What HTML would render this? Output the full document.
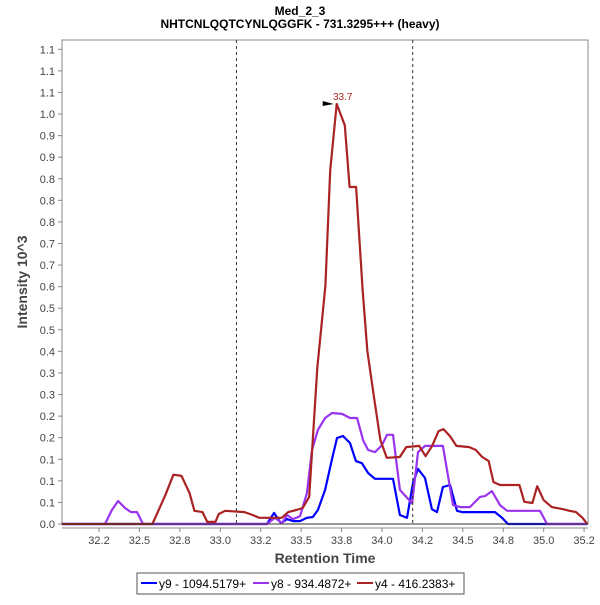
<!DOCTYPE html>
<html><head><meta charset="utf-8"><style>
body{margin:0;background:#fff;}
svg text{font-family:"Liberation Sans",sans-serif;}
</style></head><body>
<svg width="600" height="600" viewBox="0 0 600 600">
<rect x="0" y="0" width="600" height="600" fill="#fff"/>
<text x="300" y="15" text-anchor="middle" font-size="12" font-weight="bold">Med_2_3</text>
<text x="300" y="28" text-anchor="middle" font-size="12" font-weight="bold">NHTCNLQQTCYNLQGGFK - 731.3295+++ (heavy)</text>
<rect x="62" y="40" width="526" height="484" fill="#fff" stroke="#888"/>
<g id="yaxis"></g>
<g id="xaxis"></g>
<text transform="translate(27,282) rotate(-90)" text-anchor="middle" font-size="14" font-weight="bold" fill="#444">Intensity 10^3</text>
<text x="325" y="563" text-anchor="middle" font-size="14" font-weight="bold" fill="#444">Retention Time</text>
<g id="series"></g>
<g id="annot"></g>
<g>
<rect x="137" y="573" width="327" height="21" fill="#fff" stroke="#555"/>
<line x1="141" y1="583" x2="157" y2="583" stroke="#0000ff" stroke-width="2"/>
<text x="159" y="588" font-size="12">y9 - 1094.5179+</text>
<line x1="253" y1="583" x2="269" y2="583" stroke="#9933ee" stroke-width="2"/>
<text x="271" y="588" font-size="12">y8 - 934.4872+</text>
<line x1="357" y1="583" x2="373" y2="583" stroke="#aa2222" stroke-width="2"/>
<text x="375" y="588" font-size="12">y4 - 416.2383+</text>
</g>
</svg>
<script>
const xTickValues=[32.25,32.5,32.75,33.0,33.25,33.5,33.75,34.0,34.25,34.5,34.75,35.0,35.25];
const xTickLabels=["32.2","32.5","32.8","33.0","33.2","33.5","33.8","34.0","34.2","34.5","34.8","35.0","35.2"];
const yTickLabels=["0.0","0.1","0.1","0.1","0.2","0.2","0.3","0.3","0.4","0.5","0.5","0.6","0.7","0.7","0.8","0.8","0.8","0.9","0.9","1.0","1.1","1.1","1.1"];
const yTickStep=0.0525;
const dashedTimes=[33.1,34.19];
const peakTime=33.72, peakValue=1.022, peakLabel="33.7";
const y9T=[32.02,33.289,33.332,33.375,33.413,33.45,33.493,33.536,33.573,33.604,33.648,33.691,33.722,33.759,33.802,33.839,33.876,33.914,33.957,34.068,34.111,34.155,34.192,34.223,34.266,34.309,34.34,34.377,34.421,34.464,34.495,34.606,34.699,34.742,34.779,35.27];
const y9V=[0,0,0.027,0.002,0.012,0.007,0.007,0.015,0.017,0.034,0.083,0.158,0.209,0.214,0.197,0.153,0.148,0.124,0.11,0.11,0.022,0.015,0.1,0.134,0.112,0.036,0.029,0.09,0.095,0.032,0.029,0.029,0.029,0.015,0,0];
const y8T=[32.02,32.287,32.33,32.368,32.411,32.448,32.485,32.522,33.289,33.338,33.382,33.413,33.45,33.493,33.536,33.567,33.604,33.648,33.691,33.753,33.802,33.846,33.883,33.914,33.957,34.0,34.031,34.068,34.111,34.186,34.223,34.266,34.377,34.439,34.483,34.544,34.606,34.637,34.68,34.73,34.773,34.977,35.021,35.27];
const y8V=[0,0,0.034,0.056,0.039,0.029,0.029,0,0,0.015,0.002,0.022,0.012,0.019,0.075,0.18,0.229,0.258,0.27,0.268,0.258,0.258,0.204,0.18,0.175,0.192,0.217,0.217,0.083,0.05,0.175,0.19,0.19,0.046,0.041,0.041,0.066,0.068,0.08,0.046,0.032,0.032,0,0];
const y4T=[32.02,32.58,32.66,32.71,32.76,32.81,32.84,32.89,32.92,32.97,32.99,33.03,33.15,33.2,33.24,33.38,33.42,33.47,33.51,33.55,33.6,33.65,33.68,33.72,33.77,33.8,33.84,33.88,33.91,33.95,33.99,34.03,34.11,34.15,34.23,34.27,34.31,34.35,34.38,34.42,34.46,34.54,34.58,34.62,34.66,34.69,34.73,34.85,34.88,34.93,34.96,35.0,35.05,35.12,35.16,35.2,35.24,35.27];
const y4V=[0,0,0.07,0.12,0.117,0.075,0.032,0.029,0.005,0.005,0.024,0.032,0.029,0.022,0.015,0.015,0.029,0.034,0.039,0.066,0.38,0.58,0.86,1.022,0.97,0.82,0.82,0.57,0.42,0.31,0.204,0.161,0.163,0.187,0.19,0.165,0.19,0.226,0.231,0.214,0.19,0.187,0.18,0.163,0.153,0.102,0.095,0.095,0.054,0.051,0.092,0.058,0.041,0.036,0.032,0.029,0.015,0];
const NS="http://www.w3.org/2000/svg";
function X(t){return 99+(t-32.25)*161.7;}
function Y(v){return 524-v*411;}
function mk(tag,at,parent){const e=document.createElementNS(NS,tag);for(const k in at)e.setAttribute(k,at[k]);parent.appendChild(e);return e;}
const ya=document.getElementById('yaxis'),xa=document.getElementById('xaxis');
yTickLabels.forEach((l,i)=>{const y=Y(i*yTickStep);
 const tk=mk('line',{x1:58,x2:62,y1:y,y2:y,stroke:'#888'},ya);
 
 
 const t=mk('text',{x:55,y:y+4,'text-anchor':'end','font-size':11,fill:'#444'},ya);t.textContent=l;
 
 });
xTickValues.forEach((v,i)=>{const x=X(v);
 const tk=mk('line',{x1:x,x2:x,y1:528,y2:532,stroke:'#888'},xa);
 
 
 const t=mk('text',{x:x,y:544,'text-anchor':'middle','font-size':11,fill:'#444'},xa);t.textContent=xTickLabels[i];
 
 });
mk('line',{x1:62,x2:588,y1:528,y2:528,stroke:'#888'},xa);
const an=document.getElementById('annot');
dashedTimes.forEach(t=>{const l=mk('line',{x1:X(t),x2:X(t),y1:40,y2:524,stroke:'#333','stroke-dasharray':'3,3'},an);
 
 });
const sg=document.getElementById('series');
[[y9T,y9V,'#0000ff','series-y9'],[y8T,y8V,'#9933ee','series-y8'],[y4T,y4V,'#aa2222','series-y4']].forEach(s=>{
 const pts=s[0].map((t,i)=>X(t).toFixed(1)+','+Y(s[1][i]).toFixed(1)).join(' ');
 const p=mk('polyline',{points:pts,fill:'none',stroke:s[2],'stroke-width':2.2,'stroke-linejoin':'round'},sg);
 
 });
mk('line',{x1:62,x2:588,y1:Y(0),y2:Y(0),stroke:'#333','stroke-width':1},sg);
const px=X(peakTime),py=Y(peakValue);
const tri=mk('polygon',{points:(px-14)+','+(py-3)+' '+(px-3)+','+py+' '+(px-14)+','+(py+2),fill:'#000'},an);


const pl=mk('text',{x:px+6,y:py-4,'text-anchor':'middle','font-size':10,fill:'#aa2222'},an);pl.textContent=peakLabel;


</script>
</body></html>
